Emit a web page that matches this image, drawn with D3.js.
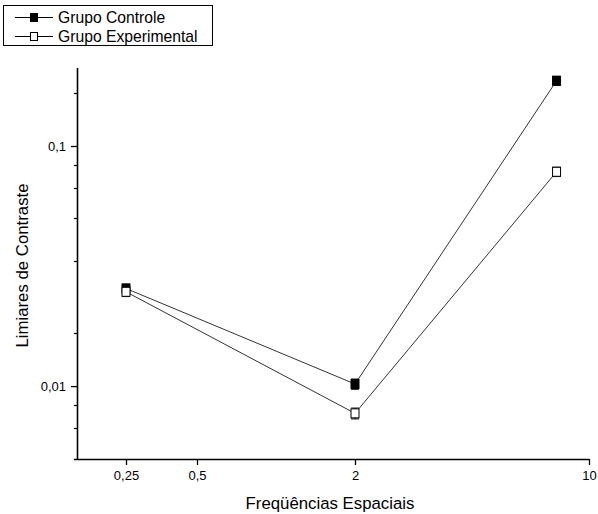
<!DOCTYPE html>
<html>
<head>
<meta charset="utf-8">
<script src="https://cdn.jsdelivr.net/npm/d3@7"></script>
<style>
  html, body { margin: 0; padding: 0; background: #fff; }
  svg { display: block; font-family: "Liberation Sans", Arial, sans-serif; }
</style>
</head>
<body>
<svg id="chart" width="598" height="514"></svg>
<script>
// ---- data ----
const frequencies = [0.25, 2, 8];
const controleValues = [0.0255, 0.0102, 0.187];
const controleErrors = [0.0011, 0.0005, 0.008];
const experimentalValues = [0.0247, 0.0077, 0.0781];
const experimentalErrors = [0.0011, 0.0004, 0.0035];
const seriesNames = ["Grupo Controle", "Grupo Experimental"];
const xTickValues = [0.25, 0.5, 2, 10];
const xTickLabels = ["0,25", "0,5", "2", "10"];
const yTickValues = [0.01, 0.1];
const yTickLabels = ["0,01", "0,1"];
const yMinorTickValues = [1/6, 1/12, 1/15, 1/20, 1/30, 1/60, 1/120, 1/150];
const xTitle = "Freqüências Espaciais";
const yTitle = "Limiares de Contraste";

// ---- layout ----
const svg = d3.select("#chart");
const pLeft = 77, pRight = 589, pTop = 68, pBottom = 459;

const x = d3.scaleLog()
  .domain([0.155, 0.25, 0.5, 2, 10])
  .range([pLeft, 126, 197, 355, pRight]);
const y = d3.scaleLog()
  .domain([0.00497, 0.2113])
  .range([pBottom, pTop]);

// axes
const xAxis = d3.axisBottom(x)
  .tickValues(xTickValues)
  .tickFormat((d, i) => xTickLabels[i])
  .tickSize(6).tickPadding(6).tickSizeOuter(0);
const gx = svg.append("g").attr("transform", `translate(0,${pBottom})`).call(xAxis);
gx.select(".domain").attr("d", `M${pLeft - 3},0.5H${pRight}`).attr("stroke", "#000").attr("stroke-width", 1.6);
gx.selectAll(".tick line").attr("stroke", "#000").attr("stroke-width", 1.3);
gx.selectAll(".tick text").attr("font-size", 13).attr("fill", "#000")
  .attr("font-family", "'Liberation Sans', Arial, sans-serif");

const yAxis = d3.axisLeft(y)
  .tickValues(yTickValues)
  .tickFormat((d, i) => yTickLabels[i])
  .tickSize(6).tickPadding(5).tickSizeOuter(0);
const gy = svg.append("g").attr("transform", `translate(${pLeft},0)`).call(yAxis);
gy.select(".domain").attr("d", `M0.5,${pTop}V${pBottom}`).attr("stroke", "#000").attr("stroke-width", 1.6);
gy.selectAll(".tick line").attr("stroke", "#000").attr("stroke-width", 1.3);
gy.selectAll(".tick text").attr("font-size", 13).attr("fill", "#000")
  .attr("font-family", "'Liberation Sans', Arial, sans-serif");

// minor y ticks
svg.append("g").selectAll("line").data(yMinorTickValues).join("line")
  .attr("x1", pLeft - 3).attr("x2", pLeft)
  .attr("y1", d => Math.round(y(d)) + 0.5).attr("y2", d => Math.round(y(d)) + 0.5)
  .attr("stroke", "#000").attr("stroke-width", 1.2);

// axis titles
svg.append("text")
  .attr("x", 330).attr("y", 509)
  .attr("text-anchor", "middle").attr("font-size", 16.8).attr("fill", "#000")
  .text(xTitle);
svg.append("text")
  .attr("transform", `translate(28,${(pTop + pBottom) / 2 + 2}) rotate(-90)`)
  .attr("text-anchor", "middle").attr("font-size", 16.8).attr("fill", "#000")
  .text(yTitle);

// series
const series = [
  { name: seriesNames[0], values: controleValues, errors: controleErrors, fill: "#000" },
  { name: seriesNames[1], values: experimentalValues, errors: experimentalErrors, fill: "#fff" }
];
const line = d3.line().x(d => x(d.f)).y(d => y(d.v));
const ms = 9;

series.forEach(s => {
  const pts = frequencies.map((f, i) => ({ f, v: s.values[i], e: s.errors[i] }));
  const g = svg.append("g");
  g.append("path").datum(pts).attr("d", line)
    .attr("fill", "none").attr("stroke", "#333").attr("stroke-width", 1);
  // error bars
  const eb = g.selectAll(".eb").data(pts).join("g");
  eb.append("line")
    .attr("x1", d => x(d.f)).attr("x2", d => x(d.f))
    .attr("y1", d => y(d.v + d.e)).attr("y2", d => y(d.v - d.e))
    .attr("stroke", "#000").attr("stroke-width", 1);
  [1, -1].forEach(sg => {
    eb.append("line")
      .attr("x1", d => x(d.f) - 4).attr("x2", d => x(d.f) + 4)
      .attr("y1", d => y(d.v + sg * d.e)).attr("y2", d => y(d.v + sg * d.e))
      .attr("stroke", "#000").attr("stroke-width", 1);
  });
  g.selectAll("rect").data(pts).join("rect")
    .attr("x", d => x(d.f) - ms / 2 + 0.5).attr("y", d => y(d.v) - ms / 2)
    .attr("width", ms - 1).attr("height", ms)
    .attr("fill", s.fill).attr("stroke", "#000").attr("stroke-width", 1);
});

// legend
const lg = svg.append("g");
lg.append("rect").attr("x", 3.5).attr("y", 5.5).attr("width", 209).attr("height", 40)
  .attr("fill", "#fff").attr("stroke", "#000").attr("stroke-width", 1);
series.forEach((s, i) => {
  const ly = 17 + i * 19;
  lg.append("line").attr("x1", 15).attr("x2", 53).attr("y1", ly + 0.5).attr("y2", ly + 0.5)
    .attr("stroke", "#000").attr("stroke-width", 1);
  lg.append("rect").attr("x", 30.5).attr("y", ly - 3.5).attr("width", 7).attr("height", 8)
    .attr("fill", s.fill).attr("stroke", "#000").attr("stroke-width", 1);
  lg.append("text").attr("x", 58).attr("y", ly + 5.5).attr("font-size", 15.7).attr("fill", "#000")
    .text(s.name);
});
</script>
</body>
</html>
